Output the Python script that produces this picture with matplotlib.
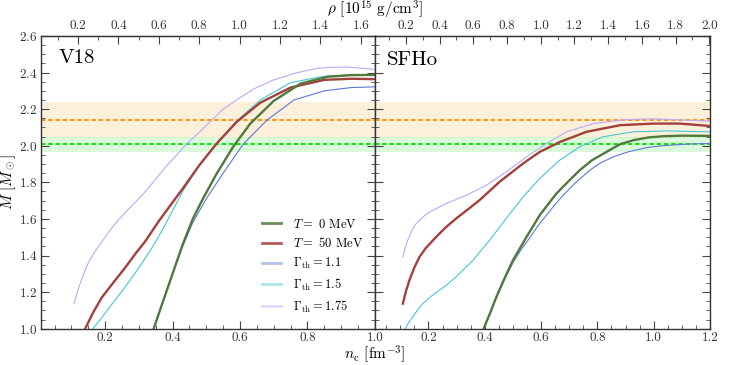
import matplotlib
matplotlib.use("Agg")
import matplotlib.pyplot as plt
from matplotlib.ticker import MultipleLocator, AutoMinorLocator, FixedLocator
from matplotlib.lines import Line2D

plt.rcParams['font.family'] = 'serif'
plt.rcParams['font.serif'] = ['cmr10', 'DejaVu Serif']
plt.rcParams['mathtext.fontset'] = 'cm'
plt.rcParams['axes.unicode_minus'] = False
plt.rcParams['axes.formatter.use_mathtext'] = True

# ---------------- V18 ----------------
v18_T0_n = [0.344, 0.37, 0.40, 0.43, 0.46, 0.49, 0.53, 0.58, 0.63, 0.70, 0.78, 0.86, 0.93, 1.00]
v18_T0_M = [1.00, 1.14, 1.30, 1.46, 1.60, 1.71, 1.845, 1.995, 2.12, 2.245, 2.34, 2.377, 2.386, 2.387]

v18_T50_n = [0.141, 0.165, 0.19, 0.23, 0.26, 0.29, 0.32, 0.36, 0.40, 0.43, 0.48, 0.53, 0.59, 0.66, 0.75, 0.85, 0.93, 1.00]
v18_T50_M = [1.00, 1.09, 1.17, 1.265, 1.335, 1.41, 1.48, 1.59, 1.69, 1.765, 1.895, 2.01, 2.13, 2.235, 2.318, 2.36, 2.366, 2.364]

v18_g11_n = [0.344, 0.37, 0.40, 0.43, 0.46, 0.50, 0.55, 0.61, 0.68, 0.76, 0.85, 0.93, 1.00]
v18_g11_M = [1.00, 1.14, 1.30, 1.45, 1.58, 1.71, 1.85, 2.01, 2.14, 2.25, 2.30, 2.318, 2.322]

v18_g15_n = [0.164, 0.19, 0.22, 0.25, 0.28, 0.31, 0.34, 0.37, 0.40, 0.43, 0.48, 0.53, 0.59, 0.66, 0.75, 0.85, 0.93, 1.00]
v18_g15_M = [1.00, 1.06, 1.133, 1.205, 1.28, 1.36, 1.445, 1.54, 1.645, 1.75, 1.895, 2.012, 2.135, 2.25, 2.345, 2.38, 2.387, 2.388]

v18_g175_n = [0.108, 0.12, 0.133, 0.15, 0.172, 0.20, 0.222, 0.25, 0.281, 0.31, 0.331, 0.36, 0.38, 0.41, 0.44,
              0.48, 0.514, 0.55, 0.59, 0.64, 0.70, 0.76, 0.82, 0.86, 0.92, 1.00]
v18_g175_M = [1.137, 1.215, 1.283, 1.36, 1.428, 1.50, 1.556, 1.615, 1.675, 1.73, 1.775, 1.84, 1.884, 1.945, 2.007,
              2.075, 2.136, 2.20, 2.25, 2.31, 2.36, 2.395, 2.42, 2.428, 2.43, 2.417]

# ---------------- SFHo ----------------
sfho_T0_n = [0.396, 0.42, 0.441, 0.47, 0.50, 0.548, 0.595, 0.654, 0.70, 0.737, 0.78, 0.832, 0.88, 0.927, 0.98, 1.034, 1.10, 1.20]
sfho_T0_M = [1.00, 1.09, 1.173, 1.275, 1.374, 1.501, 1.62, 1.738, 1.81, 1.866, 1.92, 1.966, 2.008, 2.03, 2.045, 2.052, 2.055, 2.054]

sfho_T50_n = [0.109, 0.12, 0.132, 0.15, 0.168, 0.19, 0.227, 0.26, 0.298, 0.34, 0.381, 0.452, 0.536, 0.595, 0.666,
              0.761, 0.88, 0.998, 1.093, 1.20]
sfho_T50_M = [1.137, 1.205, 1.264, 1.335, 1.392, 1.44, 1.501, 1.552, 1.602, 1.652, 1.702, 1.802, 1.903, 1.966, 2.02,
              2.076, 2.112, 2.121, 2.121, 2.108]

sfho_g11_n = [0.396, 0.42, 0.44, 0.47, 0.50, 0.53, 0.562, 0.59, 0.619, 0.65, 0.684, 0.72, 0.773, 0.81, 0.856, 0.91, 0.975, 1.03, 1.08, 1.12, 1.20]
sfho_g11_M = [1.00, 1.09, 1.17, 1.27, 1.36, 1.435, 1.501, 1.565, 1.62, 1.68, 1.738, 1.795, 1.866, 1.905, 1.939, 1.967, 1.99, 2.00, 2.005, 2.009, 2.012]

sfho_g15_n = [0.118, 0.13, 0.144, 0.16, 0.18, 0.21, 0.239, 0.268, 0.298, 0.358, 0.417, 0.476, 0.536, 0.595, 0.666,
              0.737, 0.82, 0.927, 1.046, 1.20]
sfho_g15_M = [1.00, 1.035, 1.064, 1.10, 1.137, 1.178, 1.21, 1.243, 1.283, 1.374, 1.483, 1.602, 1.72, 1.821, 1.921,
              1.994, 2.049, 2.076, 2.081, 2.076]

sfho_g175_n = [0.109, 0.117, 0.126, 0.14, 0.156, 0.18, 0.204, 0.263, 0.334, 0.405, 0.476, 0.548, 0.619, 0.69,
               0.785, 0.903, 0.998, 1.20]
sfho_g175_M = [1.392, 1.44, 1.483, 1.535, 1.574, 1.61, 1.638, 1.684, 1.729, 1.784, 1.857, 1.939, 2.012, 2.076,
               2.121, 2.143, 2.147, 2.134]

# pulsar mass constraints
m_j0740, m_j0740_lo, m_j0740_hi = 2.14, 2.05, 2.24
m_j0348, m_j0348_lo, m_j0348_hi = 2.01, 1.97, 2.05

labels = [r'$T=$ 0 MeV', r'$T=$ 50 MeV', r'$\Gamma_{\rm th}=1.1$',
          r'$\Gamma_{\rm th}=1.5$', r'$\Gamma_{\rm th}=1.75$']
colors = ['#4f7a3c', '#a3403c', '#5c78d6', '#45c6d6', '#b9a9fb']
widths = [1.7, 1.7, 0.8, 0.8, 0.8]

rho_fac = 1.67  # 1 fm^-3 -> 1.67e15 g/cm^3
rho_ticks_v18 = [0.2, 0.4, 0.6, 0.8, 1.0, 1.2, 1.4, 1.6]
rho_ticks_sfho = [0.2, 0.4, 0.6, 0.8, 1.0, 1.2, 1.4, 1.6, 1.8, 2.0]

fig = plt.figure(figsize=(7.47, 3.65), dpi=100)
ax1 = fig.add_axes([0.0549, 0.0995, 0.447, 0.802])
ax2 = fig.add_axes([0.502, 0.0995, 0.4485, 0.802], sharey=ax1)

panels = [
    (ax1, 'V18', (0.01, 1.0), (0.052, 0.955), rho_ticks_v18,
     [(v18_T0_n, v18_T0_M), (v18_T50_n, v18_T50_M), (v18_g11_n, v18_g11_M),
      (v18_g15_n, v18_g15_M), (v18_g175_n, v18_g175_M)]),
    (ax2, 'SFHo', (0.01, 1.2), (0.036, 0.948), rho_ticks_sfho,
     [(sfho_T0_n, sfho_T0_M), (sfho_T50_n, sfho_T50_M), (sfho_g11_n, sfho_g11_M),
      (sfho_g15_n, sfho_g15_M), (sfho_g175_n, sfho_g175_M)]),
]

for ax, name, xl, tpos, rticks, curves in panels:
    ax.axhspan(m_j0740_lo, m_j0740_hi, color='#fbe3b8', alpha=0.5, lw=0.5)
    ax.axhspan(m_j0348_lo, m_j0348_hi, color='#b8f5b8', alpha=0.5, lw=0.5)
    ax.axhline(m_j0740, color='#ff8c00', ls=(0, (2.5, 1.5)), lw=1.3)
    ax.axhline(m_j0348, color='#00e000', ls=(0, (2.5, 1.5)), lw=1.3)
    # thin lines first, thick ones on top
    for i in [4, 3, 1, 0, 2]:
        n, m = curves[i]
        ax.plot(n, m, color=colors[i], lw=widths[i], label=labels[i], zorder=3 + (i < 2))
    ax.set_xlim(*xl)
    ax.set_ylim(1.0, 2.6)
    ax.text(tpos[0], tpos[1], name, transform=ax.transAxes, fontsize=15, va='top')
    ax.xaxis.set_major_locator(MultipleLocator(0.2))
    ax.xaxis.set_minor_locator(AutoMinorLocator(4))
    ax.yaxis.set_major_locator(MultipleLocator(0.2))
    ax.yaxis.set_minor_locator(AutoMinorLocator(4))
    ax.tick_params(which='both', direction='in', top=False, right=True,
                   labelsize=9.5, colors='#444444', labelcolor='#333333', pad=2.5)
    ax.tick_params(which='major', length=6, width=0.8)
    ax.tick_params(which='minor', length=3, width=0.6)
    for s in ax.spines.values():
        s.set_color('#333333')
        s.set_linewidth(1.0)
    sec = ax.secondary_xaxis('top', functions=(lambda x: x * rho_fac, lambda r: r / rho_fac))
    sec.xaxis.set_major_locator(FixedLocator(rticks))
    sec.xaxis.set_minor_locator(FixedLocator([t - 0.1 for t in rticks]))
    sec.set_xticklabels(['%.1f' % t for t in rticks])
    sec.tick_params(which='both', direction='in', labelsize=9.5, colors='#444444',
                    labelcolor='#333333', pad=2.5)
    sec.tick_params(which='major', length=6, width=0.8)
    sec.tick_params(which='minor', length=3, width=0.6)

ax1.set_xticks([0.2, 0.4, 0.6, 0.8, 1.0])
ax1.set_xticklabels(['0.2', '0.4', '0.6', '0.8', '1.0'])
ax2.set_xticks([0.2, 0.4, 0.6, 0.8, 1.0, 1.2])
ax2.set_xticklabels(['0.2', '0.4', '0.6', '0.8', '1.0', '1.2'])
ax2.tick_params(labelleft=False)
ax1.set_ylabel(r'$M\ [M_\odot]$', fontsize=11)
ax1.yaxis.set_label_coords(-0.068, 0.5)

handles = [Line2D([], [], color=colors[i], lw=2, alpha=0.85 if i < 2 else 0.45) for i in range(5)]
ax1.legend(handles, labels, loc='lower right', frameon=False, fontsize=9,
           handlelength=1.5, handletextpad=1.0, labelspacing=0.45,
           bbox_to_anchor=(1.0, 0.01))

fig.text(0.502, 0.03, r'$n_{\rm c}$ [fm$^{-3}$]', ha='center', va='center', fontsize=11)
fig.text(0.502, 0.972, r'$\rho$ [10$^{15}$ g/cm$^3$]', ha='center', va='center', fontsize=11)

fig.savefig('out.png', dpi=100)
